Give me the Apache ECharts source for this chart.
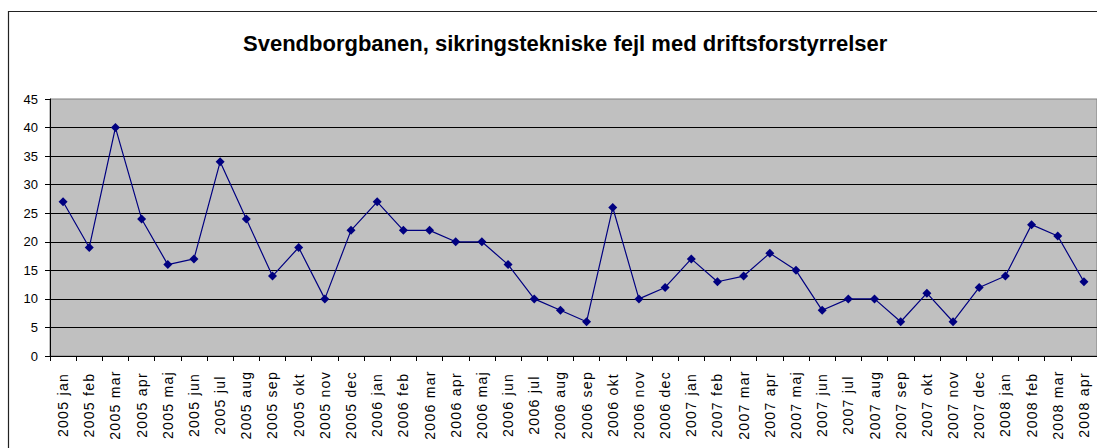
<!DOCTYPE html>
<html>
<head>
<meta charset="utf-8">
<script src="https://cdn.jsdelivr.net/npm/echarts@6/dist/echarts.min.js"></script>
<style>
  html, body { margin: 0; padding: 0; background: #fff; }
  #chart { width: 1097px; height: 448px; }
  /* rotated month labels are drawn with a bit wider spacing in the original */
  #chart text[transform^="matrix"] { letter-spacing: 1.3px; }
</style>
</head>
<body>
<div id="chart"></div>
<script>
const titleText = 'Svendborgbanen, sikringstekniske fejl med driftsforstyrrelser';

const months = [
    '2005 jan', '2005 feb', '2005 mar', '2005 apr', '2005 maj', '2005 jun',
    '2005 jul', '2005 aug', '2005 sep', '2005 okt', '2005 nov', '2005 dec',
    '2006 jan', '2006 feb', '2006 mar', '2006 apr', '2006 maj', '2006 jun',
    '2006 jul', '2006 aug', '2006 sep', '2006 okt', '2006 nov', '2006 dec',
    '2007 jan', '2007 feb', '2007 mar', '2007 apr', '2007 maj', '2007 jun',
    '2007 jul', '2007 aug', '2007 sep', '2007 okt', '2007 nov', '2007 dec',
    '2008 jan', '2008 feb', '2008 mar', '2008 apr'
];

const faults = [
    27, 19, 40, 24, 16, 17, 34, 24, 14, 19, 10, 22,
    27, 22, 22, 20, 20, 16, 10, 8, 6, 26, 10, 12,
    17, 13, 14, 18, 15, 8, 10, 10, 6, 11, 6, 12,
    14, 23, 21, 13
];

const yMin = 0;
const yMax = 45;
const yStep = 5;

const chartDom = document.getElementById('chart');
const myChart = echarts.init(chartDom, null, { renderer: 'svg' });

const option = {
    animation: false,
    backgroundColor: '#fff',
    title: {
        text: titleText,
        left: 238,
        top: 27,
        textStyle: {
            fontFamily: 'Liberation Sans, Arial, sans-serif',
            fontWeight: 'bold',
            fontSize: 22,
            color: '#000'
        }
    },
    graphic: [
        {
            // outer chart frame (runs off the right/bottom edge)
            type: 'rect',
            shape: { x: 8.5, y: 11.5, width: 1200, height: 600 },
            style: { fill: 'none', stroke: '#222', lineWidth: 1.2 },
            silent: true
        }
    ],
    grid: {
        left: 50,
        top: 99,
        width: 1050,
        height: 257,
        show: true,
        backgroundColor: '#C0C0C0',
        borderColor: '#808080',
        borderWidth: 1
    },
    xAxis: {
        type: 'category',
        data: months,
        boundaryGap: true,
        axisLine: { lineStyle: { color: '#000', width: 1 } },
        axisTick: { show: true, length: 5, lineStyle: { color: '#000' } },
        axisLabel: {
            interval: 0,
            rotate: 90,
            align: 'center',
            verticalAlign: 'middle',
            margin: 49,
            fontFamily: 'Liberation Sans, Arial, sans-serif',
            fontSize: 14,
            color: '#000'
        },
        splitLine: { show: false }
    },
    yAxis: {
        type: 'value',
        min: yMin,
        max: yMax,
        interval: yStep,
        axisLine: { show: true, lineStyle: { color: '#000', width: 1 } },
        axisTick: { show: true, length: 5, lineStyle: { color: '#000' } },
        axisLabel: {
            margin: 12,
            fontFamily: 'Liberation Sans, Arial, sans-serif',
            fontSize: 13,
            color: '#000'
        },
        splitLine: {
            show: true,
            showMaxLine: false,
            lineStyle: { color: '#000', width: 1 }
        }
    },
    series: [
        {
            type: 'line',
            data: faults,
            symbol: 'diamond',
            symbolSize: 9,
            showAllSymbol: true,
            itemStyle: { color: '#000080' },
            lineStyle: { color: '#000080', width: 1.2 }
        }
    ]
};

option && myChart.setOption(option);
</script>
</body>
</html>
